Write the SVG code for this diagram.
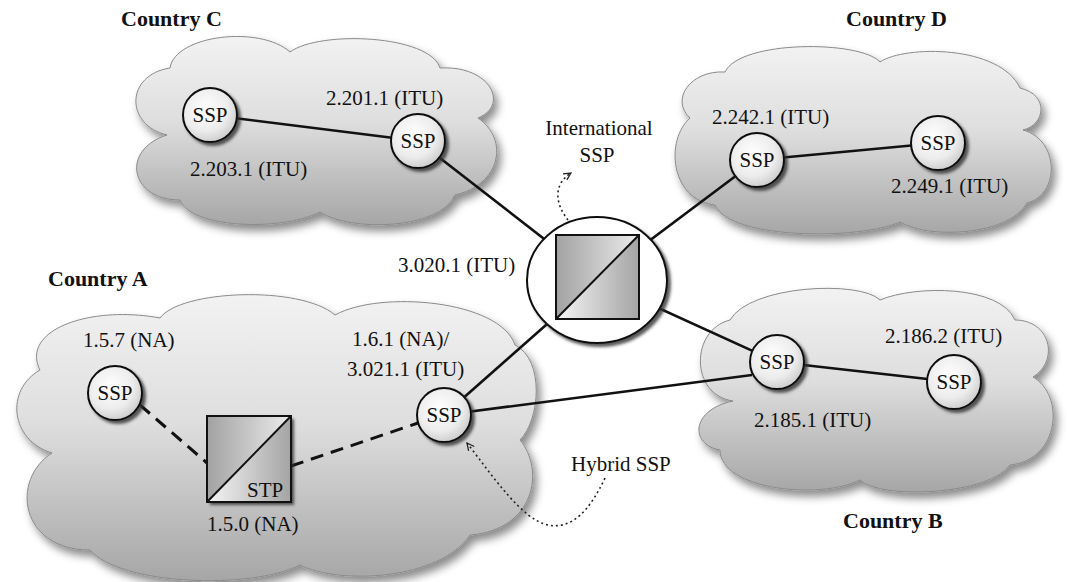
<svg xmlns="http://www.w3.org/2000/svg" width="1067" height="582" viewBox="0 0 1067 582">
<style>
text{font-family:"Liberation Serif","DejaVu Serif",serif;font-size:21px;fill:#111}
.country{font-weight:bold;font-size:22px}
.cloud{fill:url(#cloudG);stroke:#8a8a8a;stroke-width:1;filter:url(#cloudSh)}
.ssp{fill:url(#sspG);stroke:#111;stroke-width:2;filter:url(#nodeSh)}
.link{stroke:#111;stroke-width:2.6;fill:none}
.dash{stroke:#111;stroke-width:3;fill:none;stroke-dasharray:13 8}
.dot{stroke:#222;stroke-width:1.6;fill:none;stroke-dasharray:2 3}
.sq{stroke:#111;stroke-width:2;fill:none}
.c{text-anchor:middle}
</style>
<defs>
<linearGradient id="cloudG" x1="0" y1="0" x2="0" y2="1">
<stop offset="0" stop-color="#f2f2f2"/>
<stop offset="0.45" stop-color="#dedede"/>
<stop offset="1" stop-color="#a6a6a6"/>
</linearGradient>
<radialGradient id="sspG" cx="0.42" cy="0.38" r="0.7">
<stop offset="0" stop-color="#ffffff"/>
<stop offset="0.6" stop-color="#ececec"/>
<stop offset="1" stop-color="#c4c4c4"/>
</radialGradient>
<linearGradient id="triA" x1="0" y1="0" x2="1" y2="0">
<stop offset="0" stop-color="#a2a2a2"/>
<stop offset="1" stop-color="#ececec"/>
</linearGradient>
<linearGradient id="triB" x1="0" y1="0" x2="1" y2="0">
<stop offset="0" stop-color="#f6f6f6"/>
<stop offset="1" stop-color="#a4a4a4"/>
</linearGradient>
<filter id="cloudSh" x="-10%" y="-10%" width="125%" height="130%">
<feDropShadow dx="4" dy="6" stdDeviation="4" flood-color="#000" flood-opacity="0.45"/>
</filter>
<filter id="nodeSh" x="-20%" y="-20%" width="150%" height="150%">
<feDropShadow dx="3" dy="3" stdDeviation="1.5" flood-color="#333" flood-opacity="0.8"/>
</filter>
<marker id="openArrow" viewBox="0 0 10 10" refX="9" refY="5" markerWidth="9" markerHeight="9" orient="auto" markerUnits="userSpaceOnUse">
<path d="M1,1 L9,5 L1,9" fill="none" stroke="#222" stroke-width="1.4"/>
</marker>
</defs>

<g id="clouds">
<path id="cloud-C" class="cloud" d="M167,135 C125,125 125,75 170,68 C175,35 260,25 290,52 C320,30 430,35 440,68 C490,65 510,105 478,118 C510,140 500,185 455,195 C440,230 350,232 320,212 C280,232 190,228 180,200 C130,200 120,150 167,135 Z"/>
<path id="cloud-D" class="cloud" d="M690,118 C670,100 690,70 725,72 C740,40 860,40 880,62 C905,45 1000,45 1020,88 C1050,95 1045,125 1023,130 C1060,140 1060,195 1027,203 C1010,235 930,240 900,222 C860,240 730,240 715,205 C670,200 665,140 690,118 Z"/>
<path id="cloud-B" class="cloud" d="M733,401 C690,395 690,330 730,320 C750,285 860,280 880,300 C915,285 1000,285 1015,320 C1050,320 1060,360 1033,377 C1065,395 1060,460 1010,465 C990,495 880,500 860,480 C820,500 720,490 720,450 C690,445 690,410 733,401 Z"/>
<path id="cloud-A" class="cloud" d="M52,453 C10,440 5,390 40,370 C20,330 90,305 160,318 C180,290 300,285 335,315 C380,290 500,300 515,345 C545,360 540,420 520,440 C545,470 535,530 470,535 C440,580 340,585 300,565 C250,590 120,585 90,550 C20,550 10,480 52,453 Z"/>
</g>

<g id="connectors">
<line class="link" x1="210" y1="115" x2="418" y2="141"/>
<line class="link" x1="418" y1="141" x2="597" y2="280"/>
<line class="link" x1="597" y1="280" x2="757" y2="160"/>
<line class="link" x1="757" y1="160" x2="938" y2="143"/>
<line class="link" x1="597" y1="280" x2="777" y2="362"/>
<line class="link" x1="777" y1="362" x2="954" y2="382"/>
<line class="link" x1="444" y1="415" x2="597" y2="280"/>
<line class="link" x1="444" y1="415" x2="752" y2="375"/>
<line class="dash" x1="140" y1="405" x2="207" y2="463"/>
<line class="dash" x1="291" y1="466" x2="418" y2="423"/>
<path class="dot" d="M568,220 C556,205 552,185 571,173" marker-end="url(#openArrow)"/>
<path class="dot" d="M605,478 C590,510 572,530 548,525 C522,520 492,475 467,443" marker-end="url(#openArrow)"/>
</g>

<g id="node-intl">
<ellipse cx="597" cy="280" rx="70" ry="63" fill="#fff" stroke="#111" stroke-width="2" filter="url(#nodeSh)"/>
<polygon points="556,235 639,235 556,319" fill="url(#triA)"/>
<polygon points="639,235 639,319 556,319" fill="url(#triB)"/>
<rect class="sq" x="556" y="235" width="83" height="84"/>
<line class="sq" x1="556" y1="319" x2="639" y2="235"/>
</g>

<g id="node-stp">
<rect x="207" y="416" width="84" height="86" fill="#fff" filter="url(#nodeSh)"/>
<polygon points="207,416 291,416 207,502" fill="url(#triA)"/>
<polygon points="291,416 291,502 207,502" fill="url(#triB)"/>
<rect class="sq" x="207" y="416" width="84" height="86"/>
<line class="sq" x1="207" y1="502" x2="291" y2="416"/>
<text x="247" y="497">STP</text>
</g>

<g id="node-C1"><circle class="ssp" cx="210" cy="115" r="27"/><text class="c" x="210" y="122">SSP</text></g>
<g id="node-C2"><circle class="ssp" cx="418" cy="141" r="27"/><text class="c" x="418" y="148">SSP</text></g>
<g id="node-D1"><circle class="ssp" cx="757" cy="160" r="27"/><text class="c" x="757" y="167">SSP</text></g>
<g id="node-D2"><circle class="ssp" cx="938" cy="143" r="27"/><text class="c" x="938" y="150">SSP</text></g>
<g id="node-B1"><circle class="ssp" cx="777" cy="362" r="27"/><text class="c" x="777" y="369">SSP</text></g>
<g id="node-B2"><circle class="ssp" cx="954" cy="382" r="27"/><text class="c" x="954" y="389">SSP</text></g>
<g id="node-A1"><circle class="ssp" cx="115" cy="393" r="27"/><text class="c" x="115" y="400">SSP</text></g>
<g id="node-A2"><circle class="ssp" cx="444" cy="415" r="27"/><text class="c" x="444" y="422">SSP</text></g>

<g id="labels">
<text class="country" x="121" y="26">Country C</text>
<text class="country" x="846" y="26">Country D</text>
<text class="country" x="48" y="286">Country A</text>
<text class="country" x="843" y="528">Country B</text>
<text x="326" y="105">2.201.1 (ITU)</text>
<text x="190" y="176">2.203.1 (ITU)</text>
<text x="712" y="124">2.242.1 (ITU)</text>
<text x="891" y="193">2.249.1 (ITU)</text>
<text x="885" y="343">2.186.2 (ITU)</text>
<text x="754" y="427">2.185.1 (ITU)</text>
<text x="398" y="272">3.020.1 (ITU)</text>
<text class="c" x="599" y="135">International</text>
<text class="c" x="597" y="162">SSP</text>
<text x="83" y="347">1.5.7 (NA)</text>
<text x="352" y="346">1.6.1 (NA)/</text>
<text x="347" y="376">3.021.1 (ITU)</text>
<text x="207" y="531">1.5.0 (NA)</text>
<text x="571" y="471">Hybrid SSP</text>
</g>
</svg>
